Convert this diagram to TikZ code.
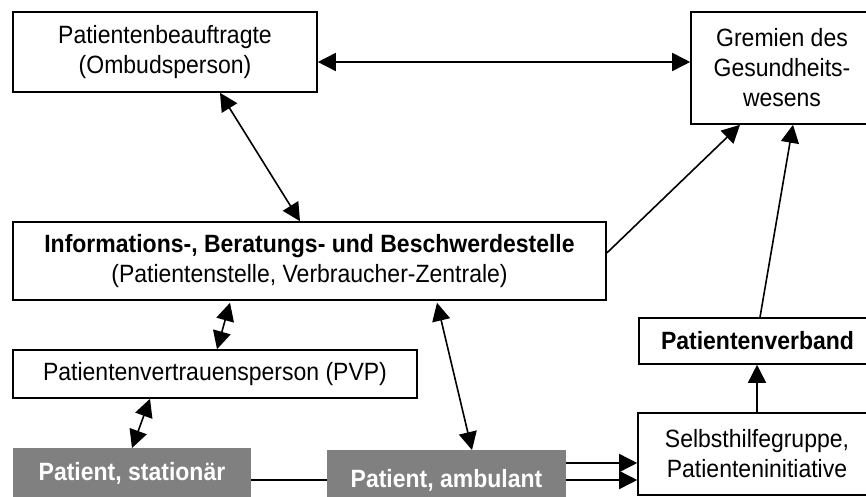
\documentclass[tikz,border=0pt]{standalone}
\usepackage{fontspec}
\setmainfont{Liberation Sans}[FakeStretch=0.92]
\usetikzlibrary{arrows.meta}
\definecolor{patgray}{RGB}{128,128,128}
\tikzset{
  box/.style={draw, line width=0.8pt, inner sep=0pt, align=center, font=\fontsize{12.5}{15}\selectfont},
  patbox/.style={fill=patgray, inner sep=0pt, text=white, font=\fontsize{12.5}{15}\selectfont\bfseries},
  link/.style={line width=0.8pt, -{Triangle[length=9pt,width=9pt]}},
  dlink/.style={line width=0.8pt, {Triangle[length=9pt,width=9pt]}-{Triangle[length=9pt,width=9pt]}},
}
\begin{document}
\begin{tikzpicture}[x=0.5pt,y=-0.5pt]
\clip (0,0) rectangle (866,497);
\node[box, minimum width=152pt, minimum height=40pt] (beauf) at (165,52) {Patientenbeauftragte\\(Ombudsperson)};
\node[box, minimum width=91pt, minimum height=56pt] (gremien) at (782,68) {Gremien des\\Gesundheits-\\wesens};
\node[box, minimum width=296.5pt, minimum height=39pt] (info) at (309.5,261) {\textbf{Informations-, Beratungs- und Beschwerdestelle}\\(Patientenstelle, Verbraucher-Zentrale)};
\node[box, minimum width=202pt, minimum height=24pt] (pvp) at (215,374) {Patientenvertrauensperson (PVP)};
\node[box, minimum width=118.5pt, minimum height=23pt, font=\fontsize{12.5}{15}\selectfont\bfseries] (verband) at (757.5,341) {Patientenverband};
\node[box, minimum width=119pt, minimum height=41pt] (selbst) at (757,454) {Selbsthilfegruppe,\\Patienteninitiative};
\node[patbox, anchor=north, minimum width=119pt, text height=16pt, text depth=15pt] (stat) at (132,448) {Patient, stationär};
\node[patbox, anchor=north, minimum width=119.5pt, text height=18.5pt, text depth=12pt] (amb) at (446.5,450) {Patient, ambulant};

% connectors
\coordinate (hb) at ([yshift=-5pt]beauf.east);
\draw[dlink] (hb) -- (hb -| gremien.west);
\draw[dlink] ([xshift=27.5pt]beauf.south) -- ([xshift=-4.75pt]info.north);
\draw[dlink] ([xshift=-39.75pt,yshift=-1pt]info.south) -- ([xshift=1pt]pvp.north);
\draw[dlink] ([xshift=-32.5pt]pvp.south) -- (stat.north);
\draw[dlink] ([xshift=63.75pt,yshift=-1pt]info.south) -- ([xshift=12.75pt]amb.north);
\draw[link] ([yshift=4pt]info.east) -- ([xshift=-21pt]gremien.south);
\draw[link] ([xshift=1.25pt]verband.north) -- ([xshift=5.5pt]gremien.south);
\draw[link] (selbst.north) -- (selbst.north |- verband.south);
\coordinate (sa) at (0,480);
\draw[line width=0.8pt] (stat.east |- sa) -- (amb.west |- sa);
\coordinate (da) at (0,463);
\coordinate (db) at (0,480);
\draw[link] (amb.east |- da) -- (selbst.west |- da);
\draw[link] (amb.east |- db) -- (selbst.west |- db);
\end{tikzpicture}
\end{document}
